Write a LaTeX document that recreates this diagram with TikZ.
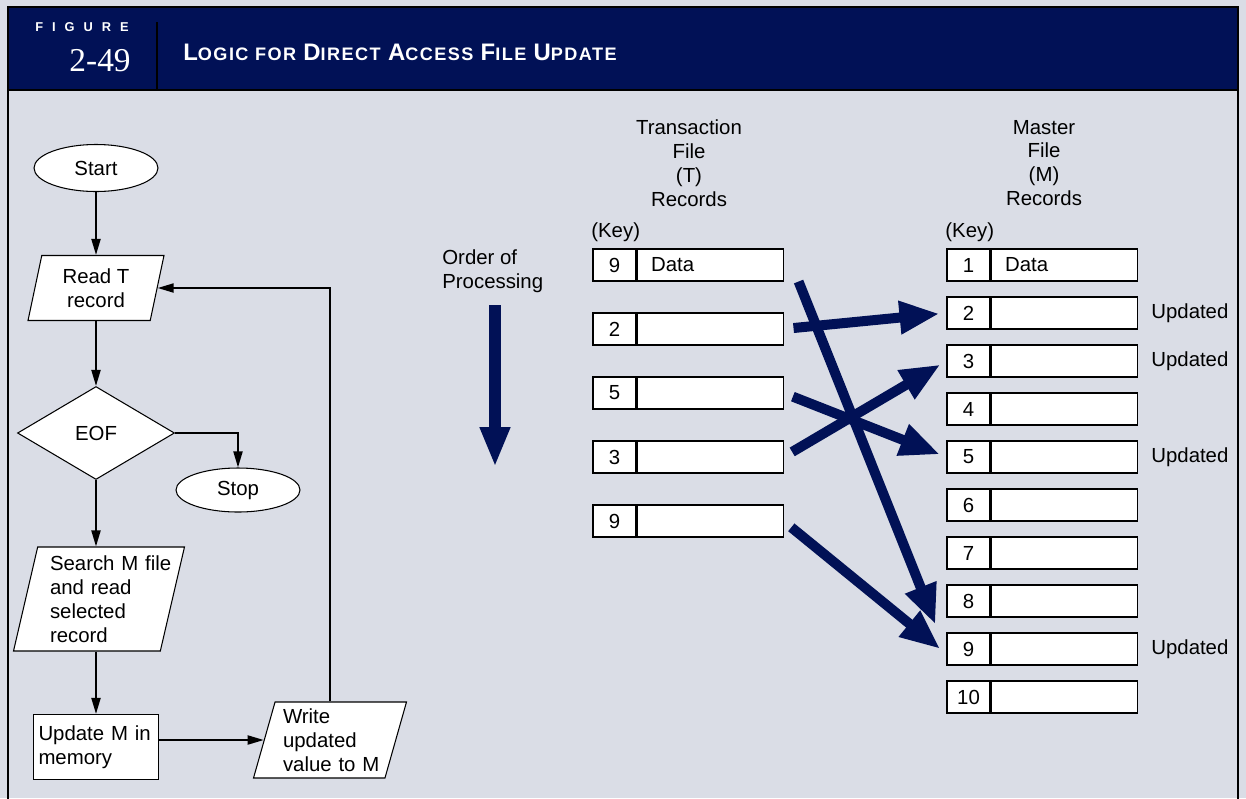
\documentclass[tikz,border=0pt]{standalone}
\usepackage{fontspec}
\setmainfont{Liberation Sans}
\newfontfamily\numfont{Liberation Serif}
\newfontfamily\capsfont[LetterSpace=8]{Liberation Sans}
\newfontfamily\tagfont[LetterSpace=70]{Liberation Sans}
\usetikzlibrary{shapes.geometric, arrows.meta, positioning, calc}
\definecolor{headnavy}{RGB}{1, 17, 86}
\definecolor{panelgray}{RGB}{218, 221, 230}
\newcommand{\capword}[2]{{\fontsize{13.6}{15}\selectfont #1}{\fontsize{10.3}{12}\selectfont #2}}

\begin{document}
\fontsize{11.6}{13.6}\selectfont
\begin{tikzpicture}[
    x=0.02cm, y=-0.02cm,
    flow/.style={-{Triangle[length=0.32cm, width=0.18cm]}, line width=1.1pt},
    terminal/.style={ellipse, draw, fill=white, line width=0.6pt,
                     minimum width=2.48cm, minimum height=0.94cm, inner sep=0pt},
    io/.style={trapezium, trapezium left angle=72, trapezium right angle=108,
               trapezium stretches body, draw, fill=white, line width=0.6pt,
               inner xsep=2pt, inner ysep=1pt},
    process/.style={rectangle, draw, fill=white, line width=0.6pt,
                    minimum height=1.3cm, text width=2.3cm, inner xsep=0.1cm, align=left},
    decision/.style={diamond, draw, fill=white, line width=0.6pt, aspect=1.7,
                     minimum width=3.14cm, minimum height=1.86cm, inner sep=0pt},
    keybox/.style={rectangle, draw, fill=white, line width=0.6pt,
                   minimum width=0.86cm, minimum height=0.64cm, inner sep=0pt},
    databox/.style={rectangle, draw, fill=white, line width=0.6pt, minimum height=0.64cm,
                    text width=2.36cm, inner xsep=0.28cm, inner ysep=0pt, align=left},
    fat/.style={-{Triangle[length=0.8cm, width=0.62cm]}, line width=0.2cm, headnavy},
    updnote/.style={anchor=west, inner sep=0pt}
]
\useasboundingbox (0,0) rectangle (1246,798);
\fill[panelgray] (0,0) rectangle (1246,798);

%% header band
\fill[headnavy] (8,7) rectangle (1238,90);
\draw[line width=1.3pt] (8,800) -- (8,7) -- (1238,7) -- (1238,800);
\draw[line width=1.3pt] (8,90) -- (1238,90);
\draw[line width=1.6pt] (157,22) -- (157,90);
\node[anchor=west, text=white, font=\tagfont\bfseries\fontsize{7.3}{8}\selectfont, inner sep=0pt] (figtag) at (35,27) {FIGURE};
\node[anchor=east, text=white, font=\numfont\fontsize{19}{20}\selectfont, inner sep=0pt] (fignum) at (131,61) {2-49};
\node[anchor=west, text=white, font=\capsfont\bfseries, inner sep=0pt] (figtitle) at (183,52)
    {\capword{L}{OGIC FOR} \capword{D}{IRECT} \capword{A}{CCESS} \capword{F}{ILE} \capword{U}{PDATE}};

%% flowchart
\node[terminal] (start) at (96,168) {Start};
\node[io, minimum width=2.72cm, minimum height=1.3cm, align=center] (readT) at (96,288) {Read T\\record};
\node[decision] (eof) at (96,433) {EOF};
\node[terminal, minimum height=0.88cm] (stop) at (238,490) {Stop};
\node[io, trapezium left angle=75, trapezium right angle=105, minimum width=3.42cm, minimum height=2.08cm,
      text width=1.96cm, align=left] (searchM) at (99,599)
    {\mbox{Search M file}\\and read\\selected\\record};
\node[process] (updM) at (96,747) {Update M in\\memory};
\node[io, minimum width=3.06cm, minimum height=1.52cm, text width=1.88cm, align=left] (writeM) at (330,740)
    {Write\\updated\\\mbox{value to M}};

\draw[flow] (start) -- (readT);
\draw[flow] (readT) -- (eof);
\draw[flow] (eof.east) -| (stop.north);
\draw[flow] (eof.south) -- (searchM.north -| eof.south);
\draw[flow] (searchM.south -| updM.north) -- (updM.north);
\draw[flow] (writeM.west -| updM.east) -- (writeM.west);
\draw[flow] (writeM.north) |- (readT.east);

%% file headings
\node[align=center] (thead) at (689,163) {Transaction\\File\\(T)\\Records};
\node[align=center] (mhead) at (1044,163) {Master\\File\\(M)\\Records};
\node[anchor=west, inner sep=0pt] (tkey) at (591,232) {(Key)};
\node[anchor=west, inner sep=0pt] (mkey) at (945,232) {(Key)};
\node[anchor=west, align=left, inner sep=0pt] (order) at (442,271) {Order of\\Processing};
\coordinate (ordTop) at (495,305);
\coordinate (ordTip) at (495,467);
\draw[-{Triangle[length=0.8cm, width=0.56cm]}, line width=0.24cm, headnavy] (ordTop) -- (ordTip);

%% transaction records
\foreach \k/\i in {9/1, 2/2, 5/3, 3/4, 9/5} {
  \node[keybox] (tk\i) at (614.5, {265+(\i-1)*64}) {\k};
  \node[databox, right=0pt of tk\i] (td\i) {\ifnum\i=1 Data\fi};
}

%% master records
\foreach \k in {1,...,10} {
  \node[keybox] (mk\k) at (968.5, {265+(\k-1)*48}) {\k};
  \node[databox, right=0pt of mk\k] (md\k) {\ifnum\k=1 Data\fi};
}
\foreach \k in {2,3,5,9}
  \node[updnote] (upd\k) at (1151, {265+(\k-1)*48}) {Updated};

%% update paths
\draw[fat, shorten <=0.2cm, shorten >=0.14cm] (td2.east) -- (mk2.west);
\draw[fat, shorten <=0.2cm, shorten >=0.14cm] (td3.east) -- (mk5.west);
\draw[fat, shorten <=0.2cm, shorten >=0.14cm] (td4.east) -- (mk3.west);
\draw[fat, shorten <=0.2cm, shorten >=0.16cm] (td5.east) -- ([yshift=-0.1cm]mk9.west);
\draw[fat] ([xshift=0.3cm]td1.south east) -- ([xshift=-0.22cm, yshift=0.16cm]mk9.north west);

\end{tikzpicture}
\end{document}
